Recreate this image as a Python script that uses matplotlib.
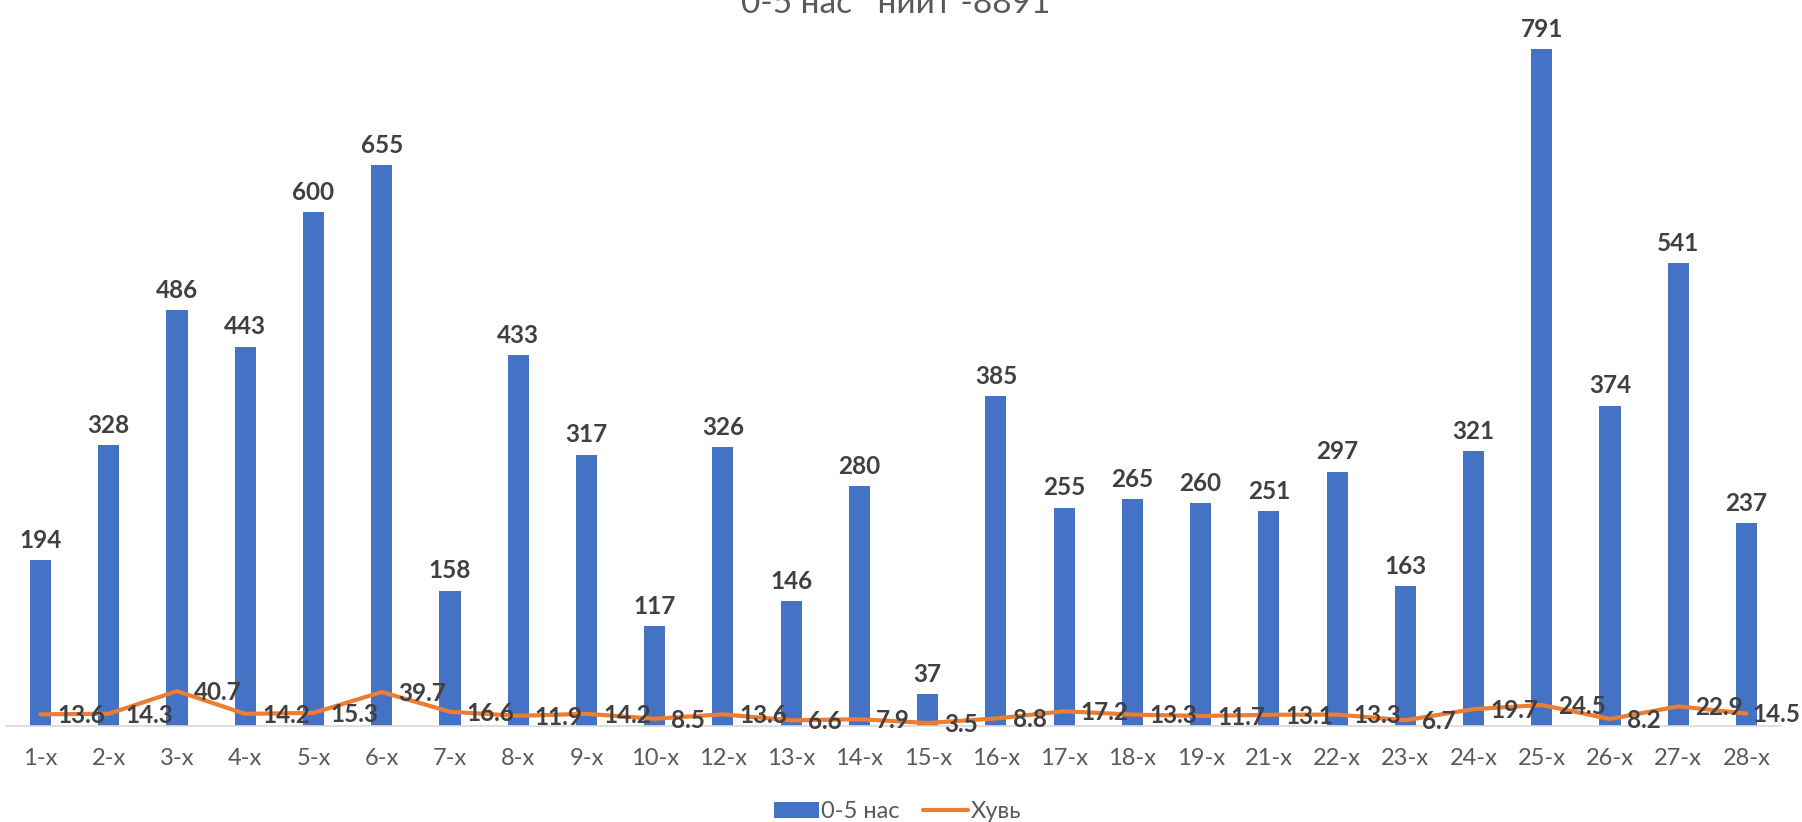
import matplotlib.pyplot as plt

# Data
categories = ['1-х', '2-х', '3-х', '4-х', '5-х', '6-х', '7-х', '8-х', '9-х', '10-х',
              '12-х', '13-х', '14-х', '15-х', '16-х', '17-х', '18-х', '19-х', '21-х',
              '22-х', '23-х', '24-х', '25-х', '26-х', '27-х', '28-х']
children = [194, 328, 486, 443, 600, 655, 158, 433, 317, 117,
            326, 146, 280, 37, 385, 255, 265, 260, 251,
            297, 163, 321, 791, 374, 541, 237]
percent = [13.6, 14.3, 40.7, 14.2, 15.3, 39.7, 16.6, 11.9, 14.2, 8.5,
           13.6, 6.6, 7.9, 3.5, 8.8, 17.2, 13.3, 11.7, 13.1,
           13.3, 6.7, 19.7, 24.5, 8.2, 22.9, 14.5]

plt.rcParams['font.family'] = ['Lato', 'Open Sans', 'DejaVu Sans']

fig = plt.figure(figsize=(18.02, 8.22), dpi=100)
ax = fig.add_axes([0.00355, 0.1168, 0.9846, 0.8852])

x = list(range(len(categories)))
bars = ax.bar(x, children, width=0.31, color='#4472C4', label='0-5 нас', zorder=2)
line, = ax.plot(x, percent, color='#ED7D31', linewidth=3, label='Хувь', zorder=3,
                solid_joinstyle='round', solid_capstyle='round')

# Data labels
for xi, v in zip(x, children):
    ax.annotate(str(v), (xi, v), xytext=(0, 6), textcoords='offset points',
                ha='center', va='bottom', fontsize=17.5, fontweight='bold',
                color='#404040', zorder=4)
for xi, v in zip(x, percent):
    # the last label is pulled in so it stays inside the picture
    dx = 4 if xi == x[-1] else 12
    ax.annotate(f'{v:.1f}', (xi, v), xytext=(dx, -1), textcoords='offset points',
                ha='left', va='center', fontsize=17.5, fontweight='bold',
                color='#404040', zorder=4)

ax.set_xlim(-0.5, len(categories) - 0.5)
ax.set_ylim(0, 850)
ax.set_xticks(x)
ax.set_xticklabels(categories, fontsize=17, color='#595959')
ax.tick_params(axis='x', length=0, pad=16)
ax.set_yticks([])
for side in ['top', 'left', 'right']:
    ax.spines[side].set_visible(False)
ax.spines['bottom'].set_color('#D9D9D9')
ax.spines['bottom'].set_linewidth(1.2)

# Title (partly cut off at the top, as in the original)
fig.text(0.497, 0.984, '0-5 нас   нийт -8891', ha='center', va='baseline',
         fontsize=24, color='#595959')

fig.legend([bars, line], ['0-5 нас', 'Хувь'], loc='center',
           bbox_to_anchor=(0.498, 0.0125), ncol=2, frameon=False,
           fontsize=17, labelcolor='#595959', handlelength=1.9, handleheight=0.65,
           handletextpad=0.1, columnspacing=1.0)

fig.savefig('out.png', dpi=100)
